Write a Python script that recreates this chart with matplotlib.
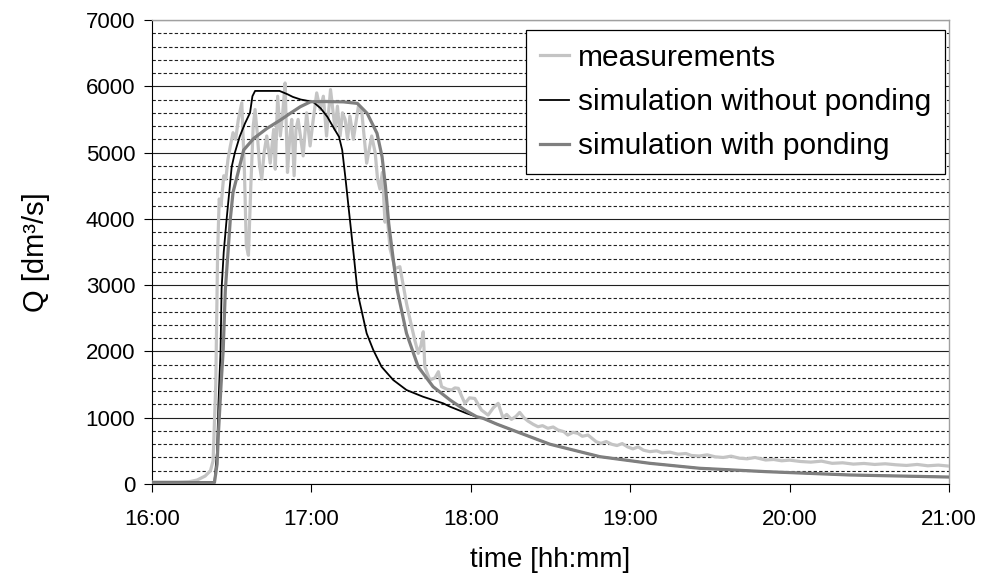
import matplotlib
matplotlib.use("Agg")
import matplotlib.pyplot as plt
from matplotlib.ticker import MultipleLocator

plt.rcParams['font.family'] = ['Liberation Sans', 'DejaVu Sans']

# time in minutes after 16:00
meas_t = [0, 5, 10, 14, 17, 20, 22, 23, 24, 24.7, 25.3, 26, 27, 27.8, 28.6, 29.5, 30.5, 31.5, 32.5, 33.8,
          34.8, 35.5, 36.3, 37.2, 38.1, 38.8, 39.6, 40.5, 41.3, 42.2, 43.2, 44.5, 45.8, 46.4, 47.3, 48.3,
          49.2, 50.1, 51, 51.8, 52.6, 53.5, 54.2, 55, 56.9, 58.2, 59.5, 60.7, 62, 63.3, 64.5, 65.7, 67.2,
          68.9, 69.8, 70.8, 71.7, 72.7, 73.6, 74.5, 75.8, 77.7, 79, 80.8, 82.7, 84, 84.9, 85.8, 86.7, 87.7,
          88.3, 89.6, 91.5, 93.3, 95.8, 96.6, 98.9, 100.2, 101.3, 102.1, 102.7, 104.6, 106.5, 107.8, 109,
          111, 112.8, 114, 115.3, 116.5, 117.8, 119.5, 121.5, 124, 126.5, 128.5, 130.3, 132.1, 133.5, 135.3,
          137, 138.4, 140, 141.5, 143.5, 145.3, 147, 149, 151, 152.8, 155, 156.5, 158.5, 160.3, 162, 164.1,
          167.2, 169, 171, 173, 175, 177, 179, 181, 183, 185, 187.4, 190, 192, 195, 198, 201, 203, 206, 209,
          212, 215, 218, 221, 224, 227, 231, 234, 237, 240, 244, 248, 252, 256, 260, 264, 268, 272, 276, 280,
          284, 288, 292, 296, 300]
meas_q = [30, 30, 30, 35, 60, 120, 200, 350, 1500, 3500, 4300, 4200, 4650, 4600, 4900, 5100, 5300, 5200, 5500, 5750,
          4700, 3600, 3450, 4500, 5400, 5650, 5300, 4800, 4600, 5000, 5250, 4840, 5350, 4750, 5850, 5250,
          5600, 6050, 4700, 5200, 5500, 4650, 5350, 5500, 4950, 5600, 5100, 5500, 5900, 5650, 5850, 5250, 5950,
          5350, 5700, 5250, 5600, 5500, 5200, 5550, 5200, 5700, 5600, 4840, 5250, 5000, 4600, 4450, 4700, 3950,
          4150, 3550, 3250, 3278, 2725, 2575, 2172, 1971, 2100, 2297, 1769, 1569, 1600, 1694, 1468,
          1430, 1418, 1450, 1443, 1330, 1217, 1300, 1290, 1116, 1040, 1150, 1217, 1000, 1050, 975,
          1020, 1080, 1000, 950, 900, 864, 880, 840, 860, 815, 790, 739, 780, 764, 720, 739,
          638, 613, 640, 600, 580, 610, 560, 530, 560, 510, 488, 500, 470, 480, 450, 460, 430, 422, 440,
          410, 400, 420, 390, 380, 400, 362, 370, 350, 360, 340, 330, 345, 312, 320, 300, 310, 295, 305, 290,
          280, 295, 275, 285, 270]

nopond_t = [0, 23.5, 24.5, 25, 25.8, 26.2, 27, 28.1, 30, 31.2, 33, 35, 36.9, 37.8, 38.8, 48, 51, 53, 56, 60.6,
            63.5, 66, 68.5, 70.4, 71.6, 72.9, 74.1, 76, 77.3, 78, 80.8, 83.3, 86.4, 90.8, 95.8, 102, 109.6,
            112.2, 118.4, 122.2, 124.7, 130, 137.3, 149.8, 168.6, 187.4, 206.2, 231.3, 262.7, 300]
nopond_q = [30, 30, 500, 1200, 2000, 2950, 3500, 4000, 4786, 5000, 5240, 5440, 5600, 5850, 5930, 5930, 5880, 5840, 5800,
            5766, 5667, 5540, 5365, 5238, 5038, 4585, 4133, 3429, 2926, 2775, 2273, 2021, 1769, 1569, 1418, 1317,
            1217, 1166, 1066, 1015, 990, 900, 789, 600, 412, 312, 237, 186, 136, 105]

pond_t = [0, 23.5, 24.5, 25, 26, 26.8, 27.6, 29.5, 30.5, 32, 34.5, 38.3, 43.3, 48.3, 52, 55.8, 59.7, 65, 72,
          77.3, 81, 84.7, 86.6, 87.9, 89.1, 91, 92.3, 95.8, 100.2, 105.8, 112.2, 118, 122.2, 124.7, 130,
          137.3, 149.8, 168.6, 187.4, 206.2, 231.3, 262.7, 300]
pond_q = [20, 20, 300, 765, 1500, 2021, 2926, 4007, 4400, 4635, 5038, 5214, 5365, 5490, 5591, 5691, 5767, 5770, 5765,
          5742, 5591, 5290, 4937, 4484, 3932, 3329, 2926, 2273, 1769, 1468, 1267, 1110, 1015, 990, 900,
          789, 600, 412, 312, 237, 186, 136, 105]

hour_ticks = [16, 17, 18, 19, 20, 21]
hour_labels = ["16:00", "17:00", "18:00", "19:00", "20:00", "21:00"]

fig = plt.figure(figsize=(9.86, 5.79), dpi=100)
ax = fig.add_axes([152 / 986, 1 - 484 / 579, 797 / 986, 464 / 579])

def to_h(ts):
    return [16 + t / 60.0 for t in ts]

ax.plot(to_h(meas_t), meas_q, color='#c4c4c4', lw=2.3, label='measurements', zorder=3)
ax.plot(to_h(nopond_t), nopond_q, color='#000000', lw=1.3, label='simulation without ponding', zorder=4)
ax.plot(to_h(pond_t), pond_q, color='#7f7f7f', lw=2.3, label='simulation with ponding', zorder=5)

ax.set_xlim(16, 21)
ax.set_ylim(0, 7000)
ax.set_xticks(hour_ticks)
ax.set_xticklabels(hour_labels)
ax.yaxis.set_major_locator(MultipleLocator(1000))
ax.yaxis.set_minor_locator(MultipleLocator(200))
ax.grid(which='major', axis='y', color='#202020', lw=0.8, linestyle='-', zorder=1)
ax.grid(which='minor', axis='y', color='#202020', lw=0.8, linestyle=(0, (3, 2)), zorder=1)
ax.set_axisbelow(True)

ax.tick_params(axis='both', which='major', direction='out', length=6, width=0.8, color='black',
               labelsize=16)
ax.tick_params(axis='x', pad=12)
ax.tick_params(axis='y', pad=6)
ax.tick_params(axis='y', which='minor', length=0)

for s in ['left', 'bottom']:
    ax.spines[s].set_color('black')
    ax.spines[s].set_linewidth(0.8)
for s in ['top', 'right']:
    ax.spines[s].set_color('#a0a0a0')
    ax.spines[s].set_linewidth(1.0)

ax.set_xlabel('time [hh:mm]', fontsize=20, labelpad=12)
ax.set_ylabel('Q [dm³/s]', fontsize=21, labelpad=26)

leg = ax.legend(loc='upper right', bbox_to_anchor=(0.995, 0.978), borderaxespad=0, fontsize=21.5,
                fancybox=False, framealpha=1, edgecolor='black', handlelength=1.0, handletextpad=0.3,
                labelspacing=0.55, borderpad=0.45)
leg.get_frame().set_linewidth(0.9)

fig.savefig('out.png', dpi=100)
